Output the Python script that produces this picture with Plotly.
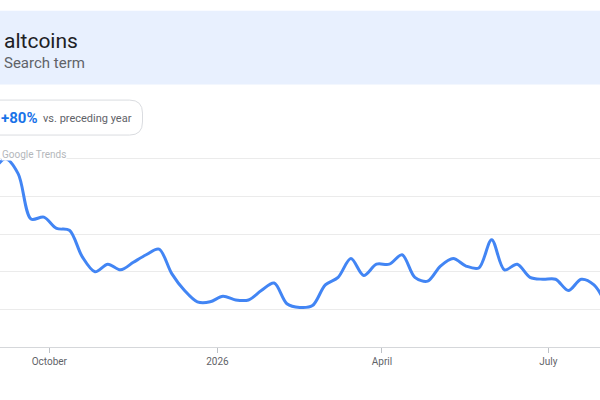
import pandas as pd
import plotly.graph_objects as go

# weekly interest for "altcoins" (Google Trends, 0-100)
weeks = pd.date_range("2025-08-31", periods=49, freq="7D")
interest = [93, 100, 92, 68, 69, 63, 62, 48, 40, 44,
            41, 45, 49, 52, 39, 30, 24, 24, 27, 25,
            25, 30, 34, 23, 21, 22, 33, 37, 47, 38,
            44, 44, 49, 37, 35, 43, 47, 43, 42, 57,
            41, 44, 37, 36, 36, 30, 36, 33, 22]

tick_dates = ["2025-10-01", "2026-01-01", "2026-04-01", "2026-07-01"]
tick_labels = ["October", "2026", "April", "July"]

term = "altcoins"
term_kind = "Search term"
change = "+80%"
change_note = "vs. preceding year"

W, H = 600, 400
Y0, Y100 = 346.7, 158.3  # pixel rows of value 0 and 100


def py(ypx):
    # pixel row -> paper y
    return (Y0 - ypx) / (Y0 - Y100) * 100 / 101.5


def px(xpx):
    return xpx / W


fig = go.Figure()

fig.add_trace(go.Scatter(
    x=weeks, y=interest,
    mode="lines",
    line=dict(color="#4285f4", width=3, shape="spline", smoothing=0.9),
    hoverinfo="skip",
))

# header band
fig.add_shape(type="rect", xref="paper", yref="paper",
              x0=-0.01, x1=1.01, y0=py(84), y1=py(10),
              fillcolor="#e8f0fe", line_width=0, layer="below")

# pill around the yearly change
r = 13
l, rt, t, b = -20, 142.5, 99.5, 134.5
path = (f"M {px(l)},{py(t)} L {px(rt - r)},{py(t)} "
        f"Q {px(rt)},{py(t)} {px(rt)},{py(t + r)} "
        f"L {px(rt)},{py(b - r)} "
        f"Q {px(rt)},{py(b)} {px(rt - r)},{py(b)} "
        f"L {px(l)},{py(b)} Z")
fig.add_shape(type="path", xref="paper", yref="paper", path=path,
              fillcolor="white", line=dict(color="#dadce0", width=1))

fig.add_annotation(text=term, xref="paper", yref="paper",
                   x=px(2), y=py(40), xanchor="left", yanchor="middle",
                   showarrow=False, font=dict(size=21, color="#202124"))
fig.add_annotation(text=term_kind, xref="paper", yref="paper",
                   x=px(2), y=py(62), xanchor="left", yanchor="middle",
                   showarrow=False, font=dict(size=15, color="#5f6368"))
fig.add_annotation(text=f"<b>{change}</b>", xref="paper", yref="paper",
                   x=px(-1), y=py(117), xanchor="left", yanchor="middle",
                   showarrow=False, font=dict(size=15, color="#1a73e8"))
fig.add_annotation(text=change_note, xref="paper", yref="paper",
                   x=px(41), y=py(117.5), xanchor="left", yanchor="middle",
                   showarrow=False, font=dict(size=11, color="#5f6368"))
fig.add_annotation(text="Google Trends", xref="paper", yref="paper",
                   x=px(1), y=py(154), xanchor="left", yanchor="middle",
                   showarrow=False, bgcolor="white", borderpad=0,
                   font=dict(size=10, color="#b4b7bb"))

fig.update_layout(
    width=W, height=H,
    margin=dict(l=0, r=0, t=155.5, b=53.3),
    paper_bgcolor="white",
    plot_bgcolor="white",
    showlegend=False,
    font=dict(family="Roboto, Arial, sans-serif"),
    xaxis=dict(
        type="date",
        range=["2025-09-04 00:40", "2026-07-29 07:00"],
        tickvals=tick_dates,
        ticktext=tick_labels,
        ticks="outside", ticklen=5, tickcolor="#bdc1c6",
        tickfont=dict(size=10, color="#5f6368"),
        showgrid=False, zeroline=False,
        showline=True, linecolor="#d5d7da", linewidth=1,
    ),
    yaxis=dict(
        range=[0, 101.5],
        tickvals=[20, 40, 60, 80, 100],
        showticklabels=False,
        gridcolor="#ebebeb", gridwidth=1,
        zeroline=False, showline=False,
    ),
)

# drop the page's default body margin so the figure sits at (0, 0)
fig.write_html("out.html", config={"displayModeBar": False},
               post_script="document.body.style.margin='0';")
